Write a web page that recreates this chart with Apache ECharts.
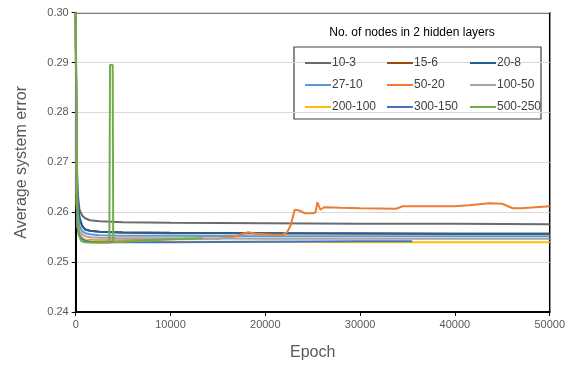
<!DOCTYPE html>
<html><head><meta charset="utf-8">
<script src="https://cdn.jsdelivr.net/npm/echarts@6/dist/echarts.min.js"></script>
<style>html,body{margin:0;padding:0;background:#fff}#c{width:568px;height:366px}</style>
</head><body><div id="c"></div>
<script>
const seriesNames = ['10-3','15-6','20-8','27-10','50-20','100-50','200-100','300-150','500-250'];
const colors = ['#6b6b6b','#9e480e','#255e91','#5b9bd5','#ed7d31','#a5a5a5','#ffc000','#4472c4','#70ad47'];

const epochsFlat = [0,100,200,400,700,1000,1500,2500,5000,10000,20000,30000,40000,50000];
const v10_3   = [0.30,0.272,0.264,0.2605,0.2593,0.2588,0.2584,0.2582,0.2580,0.2579,0.2578,0.2577,0.2577,0.2576];
const v15_6   = [0.30,0.268,0.262,0.2585,0.2572,0.2566,0.2563,0.2561,0.2559,0.2558,0.2558,0.2557,0.2557,0.2557];
const v20_8   = [0.30,0.270,0.263,0.2590,0.2572,0.2565,0.2563,0.2561,0.2560,0.2559,0.2558,0.2558,0.2557,0.2557];
const v27_10  = [0.30,0.266,0.260,0.2572,0.2562,0.2558,0.2556,0.2554,0.2553,0.2553,0.2552,0.2552,0.2552,0.2552];
const v100_50 = [0.30,0.264,0.258,0.2562,0.2555,0.2552,0.2550,0.2549,0.2548,0.2548,0.2547,0.2547,0.2547,0.2547];
const v200_100= [0.30,0.262,0.257,0.2555,0.2548,0.2545,0.2543,0.2542,0.2541,0.2541,0.2541,0.2540,0.2540,0.2540];

const epochs300 = [0,100,200,400,700,1000,1500,2500,5000,10000,20000,30000,35500];
const v300_150  = [0.30,0.262,0.257,0.2553,0.2546,0.2543,0.2541,0.2540,0.2540,0.2540,0.2541,0.2542,0.2542];

const epochs50 = [0,100,200,400,700,1000,2000,5000,10000,13500,15000,16000,17000,17500,18200,19000,20000,21000,21800,22300,22700,23100,23500,24200,25000,25300,25500,25800,26200,28000,30000,33800,34500,37000,40000,41500,43600,45000,46100,47000,48500,50000];
const v50_20   = [0.30,0.262,0.257,0.2552,0.2547,0.2545,0.2544,0.2544,0.2546,0.2547,0.2547,0.2549,0.2552,0.2556,0.2560,0.2557,0.2556,0.2555,0.2555,0.2560,0.2575,0.2605,0.2604,0.2598,0.2598,0.2600,0.2620,0.2605,0.2610,0.2609,0.2608,0.2607,0.2612,0.2612,0.2612,0.2614,0.2618,0.2617,0.2608,0.2608,0.2610,0.2612];

const epochs500 = [0,60,150,300,600,1000,2000,3550,3620,3700,3900,3960,5000,8000,10000,13400];
const v500_250  = [0.30,0.30,0.262,0.2555,0.2542,0.2540,0.2539,0.2539,0.2895,0.2895,0.2895,0.2540,0.2541,0.2544,0.2546,0.2548];

const yTicks = [0.24,0.25,0.26,0.27,0.28,0.29,0.30];
const xTicks = [0,10000,20000,30000,40000,50000];
const legendTitle = 'No. of nodes in 2 hidden layers';

function pairs(xs, ys){ return xs.map((x,i)=>[x, ys[i]]); }
const seriesData = [
  pairs(epochsFlat, v10_3),
  pairs(epochsFlat, v15_6),
  pairs(epochsFlat, v20_8),
  pairs(epochsFlat, v27_10),
  pairs(epochs50, v50_20),
  pairs(epochsFlat, v100_50),
  pairs(epochsFlat, v200_100),
  pairs(epochs300, v300_150),
  pairs(epochs500, v500_250)
];

const FONT = 'Liberation Sans, Arial, sans-serif';
const chart = echarts.init(document.getElementById('c'), null, {renderer:'canvas'});

const colLeft = [300, 382, 465];
const legends = colLeft.map((l, c) => ({
  orient: 'vertical',
  left: l, top: 52,
  itemWidth: 26, itemHeight: 14, itemGap: 10,
  icon: 'path://M0,6 L26,6 L26,8 L0,8 Z',
  selectedMode: false,
  textStyle: {fontFamily: FONT, fontSize: 12, color: '#404040', padding: [0,0,0,-4]},
  data: [seriesNames[c], seriesNames[c+3], seriesNames[c+6]]
}));

chart.setOption({
  animation: false,
  backgroundColor: '#fff',
  grid: {left: 75.7, right: 17.4, top: 12.7, bottom: 53.5, show: true, borderColor: '#000', borderWidth: 1.5},
  legend: legends,
  graphic: [
    {type:'rect', shape:{x:294, y:47, width:247, height:72}, style:{fill:'#fff', stroke:'#404040', lineWidth:1.2}, z: 0},
    {type:'text', style:{x:412, y:33, text: legendTitle, textAlign:'center', textVerticalAlign:'middle', font:'12px ' + FONT, fill:'#000'}}
  ],
  xAxis: {
    type: 'value', min: xTicks[0], max: xTicks[xTicks.length-1], interval: 10000,
    name: 'Epoch', nameLocation: 'middle', nameGap: 33,
    nameTextStyle: {fontFamily: FONT, fontSize: 16, color: '#595959'},
    axisLine: {lineStyle: {color: '#000', width: 2}},
    axisTick: {show: true, length: 4, lineStyle: {color: '#000'}},
    axisLabel: {fontFamily: FONT, fontSize: 11, color: '#595959', margin: 7, formatter: v => String(v)},
    splitLine: {show: false}
  },
  yAxis: {
    type: 'value', min: yTicks[0], max: yTicks[yTicks.length-1], interval: 0.01,
    name: 'Average system error', nameLocation: 'middle', nameGap: 46,
    nameTextStyle: {fontFamily: FONT, fontSize: 16, color: '#595959'},
    axisLine: {show: true, lineStyle: {color: '#000', width: 2}},
    axisTick: {show: true, length: 4, lineStyle: {color: '#000'}},
    axisLabel: {fontFamily: FONT, fontSize: 11, color: '#595959', margin: 7, formatter: v => v.toFixed(2)},
    splitLine: {show: true, lineStyle: {color: '#d9d9d9', width: 1}}
  },
  series: seriesNames.map((n, i) => ({
    name: n, type: 'line', data: seriesData[i], symbol: 'none', showSymbol: false,
    color: colors[i],
    lineStyle: {color: colors[i], width: 2},
    clip: true, z: 2 + i
  }))
});
</script></body></html>
